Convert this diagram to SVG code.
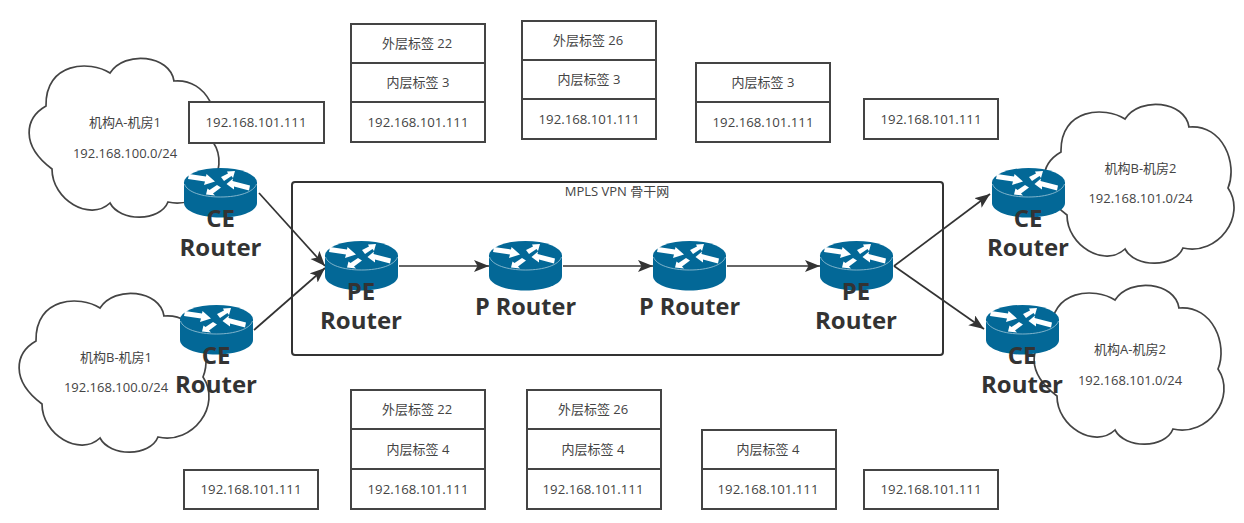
<svg xmlns="http://www.w3.org/2000/svg" width="1244" height="523" viewBox="0 0 1244 523">
<style>
text{font-family:"Open Sans","Noto Sans CJK SC","Noto Sans",sans-serif;text-anchor:middle;fill:#444}
.s{font-size:13.2px}
.c{font-size:13px}
.b{font-size:24px;font-weight:700;fill:#333}
.box{fill:#fff;stroke:#444;stroke-width:2}
.cloud{fill:#fff;stroke:#444;stroke-width:1.7}
.link{fill:none;stroke:#333;stroke-width:1.7;marker-end:url(#arr)}
</style>
<defs>
<marker id="arr" markerUnits="userSpaceOnUse" markerWidth="16" markerHeight="14" refX="15" refY="6" orient="auto"><path d="M0 0L15 6L0 12L3.5 6Z" fill="#333"/></marker>
<path id="cl" d="M110 73C90 60 45 62 46 106C25 118 20 145 52 169C52 200 90 222 110 203C120 222 160 222 168 202C203 210 232 170 213 142C223 118 208 78 174 81C170 55 125 50 110 73Z"/>
<g id="rt">
<path d="M0 14.500V35C0 43 16 49.500 36.500 49.500S73 43 73 35V14.500Z" fill="#036897"/>
<ellipse cx="36.500" cy="14.500" rx="36.500" ry="14.500" fill="#036897"/>
<path d="M0.500 16C3 24 18 29 36.500 29S70 24 72.500 16" fill="none" stroke="#9fc6d8" stroke-width="0.800"/>
<path d="M5 6L22 8.500L22.500 6L31 13.500L20 17L21 13.500L4 11Z M37 9L44 5.500L43 3.500L51 3L49 10L47.500 8L40 13Z M66 17.500L48.500 13L49 10.500L42.500 16L50 21.500L50 18.500L65 22.500Z M22 26.500L23.500 20.500L25.500 22L33 17L37 19.500L29 25.500L31 27.500Z" fill="#fff"/>
</g>
</defs>

<g id="cloud-a1"><use href="#cl" class="cloud"/><text class="c" x="125" y="127">机构A-机房1</text><text class="c" x="125" y="158">192.168.100.0/24</text></g>
<g id="cloud-b1"><use href="#cl" class="cloud" transform="translate(-10 235)"/><text class="c" x="116" y="362">机构B-机房1</text><text class="c" x="116" y="392">192.168.100.0/24</text></g>
<g id="cloud-b2"><use href="#cl" class="cloud" transform="translate(1015 46)"/><text class="c" x="1140.500" y="173">机构B-机房2</text><text class="c" x="1140.500" y="203">192.168.101.0/24</text></g>
<g id="cloud-a2"><use href="#cl" class="cloud" transform="translate(1005 227)"/><text class="c" x="1130" y="354">机构A-机房2</text><text class="c" x="1130" y="385">192.168.101.0/24</text></g>

<g id="mpls"><rect x="292" y="182" width="651" height="173" rx="3" fill="none" stroke="#333" stroke-width="2"/><text class="c" x="617" y="196">MPLS VPN 骨干网</text></g>

<g id="connectors">
<path class="link" d="M259 193L325 266"/>
<path class="link" d="M254 330L325 268"/>
<path class="link" d="M399 266H489"/>
<path class="link" d="M563 266H653"/>
<path class="link" d="M727 266H820"/>
<path class="link" d="M894 266L990 194"/>
<path class="link" d="M894 266L984 329"/>
</g>

<g id="labels-a1"><rect class="box" x="189" y="102" width="135" height="41"/><text class="s" x="256" y="127">192.168.101.111</text></g>
<g id="stack-t1"><rect class="box" x="351" y="24" width="134" height="39"/><rect class="box" x="351" y="63" width="134" height="39"/><rect class="box" x="351" y="102" width="134" height="40"/><text class="c" x="417" y="48">外层标签 22</text><text class="c" x="418" y="87">内层标签 3</text><text class="s" x="418" y="127">192.168.101.111</text></g>
<g id="stack-t2"><rect class="box" x="522" y="21" width="134" height="39"/><rect class="box" x="522" y="60" width="134" height="39"/><rect class="box" x="522" y="99" width="134" height="40"/><text class="c" x="588" y="45">外层标签 26</text><text class="c" x="589" y="84">内层标签 3</text><text class="s" x="589" y="124">192.168.101.111</text></g>
<g id="stack-t3"><rect class="box" x="696" y="63" width="134" height="39"/><rect class="box" x="696" y="102" width="134" height="40"/><text class="c" x="763" y="87">内层标签 3</text><text class="s" x="763" y="127">192.168.101.111</text></g>
<g id="label-t4"><rect class="box" x="864" y="99" width="134" height="40"/><text class="s" x="931" y="124">192.168.101.111</text></g>
<g id="label-b1"><rect class="box" x="184" y="470" width="134" height="39"/><text class="s" x="251" y="494">192.168.101.111</text></g>
<g id="stack-b2"><rect class="box" x="351" y="390" width="134" height="39"/><rect class="box" x="351" y="429" width="134" height="40"/><rect class="box" x="351" y="469" width="134" height="40"/><text class="c" x="417" y="414">外层标签 22</text><text class="c" x="418" y="454">内层标签 4</text><text class="s" x="418" y="494">192.168.101.111</text></g>
<g id="stack-b3"><rect class="box" x="527" y="390" width="134" height="39"/><rect class="box" x="527" y="429" width="134" height="40"/><rect class="box" x="527" y="469" width="134" height="40"/><text class="c" x="593" y="414">外层标签 26</text><text class="c" x="593" y="454">内层标签 4</text><text class="s" x="593" y="494">192.168.101.111</text></g>
<g id="stack-b4"><rect class="box" x="702" y="430" width="134" height="39"/><rect class="box" x="702" y="469" width="134" height="40"/><text class="c" x="768" y="454">内层标签 4</text><text class="s" x="768" y="494">192.168.101.111</text></g>
<g id="label-b5"><rect class="box" x="864" y="470" width="134" height="39"/><text class="s" x="931" y="494">192.168.101.111</text></g>

<g id="ce-a1"><use href="#rt" x="184" y="168"/><text class="b" x="220.500" y="226.500">CE</text><text class="b" x="220.500" y="256">Router</text></g>
<g id="ce-b1"><use href="#rt" x="180" y="305"/><text class="b" x="216" y="363.500">CE</text><text class="b" x="216" y="393">Router</text></g>
<g id="pe-1"><use href="#rt" x="325" y="241"/><text class="b" x="361" y="299.500">PE</text><text class="b" x="361" y="329">Router</text></g>
<g id="p-1"><use href="#rt" x="489" y="241"/><text class="b" x="525.500" y="315" style="font-size:23.500px">P Router</text></g>
<g id="p-2"><use href="#rt" x="653" y="241"/><text class="b" x="689.500" y="315" style="font-size:23.500px">P Router</text></g>
<g id="pe-2"><use href="#rt" x="820" y="241"/><text class="b" x="856" y="299.500">PE</text><text class="b" x="856" y="329">Router</text></g>
<g id="ce-b2"><use href="#rt" x="992" y="168"/><text class="b" x="1028" y="226.500">CE</text><text class="b" x="1028" y="256">Router</text></g>
<g id="ce-a2"><use href="#rt" x="986" y="305"/><text class="b" x="1022" y="363.500">CE</text><text class="b" x="1022" y="393">Router</text></g>
</svg>
